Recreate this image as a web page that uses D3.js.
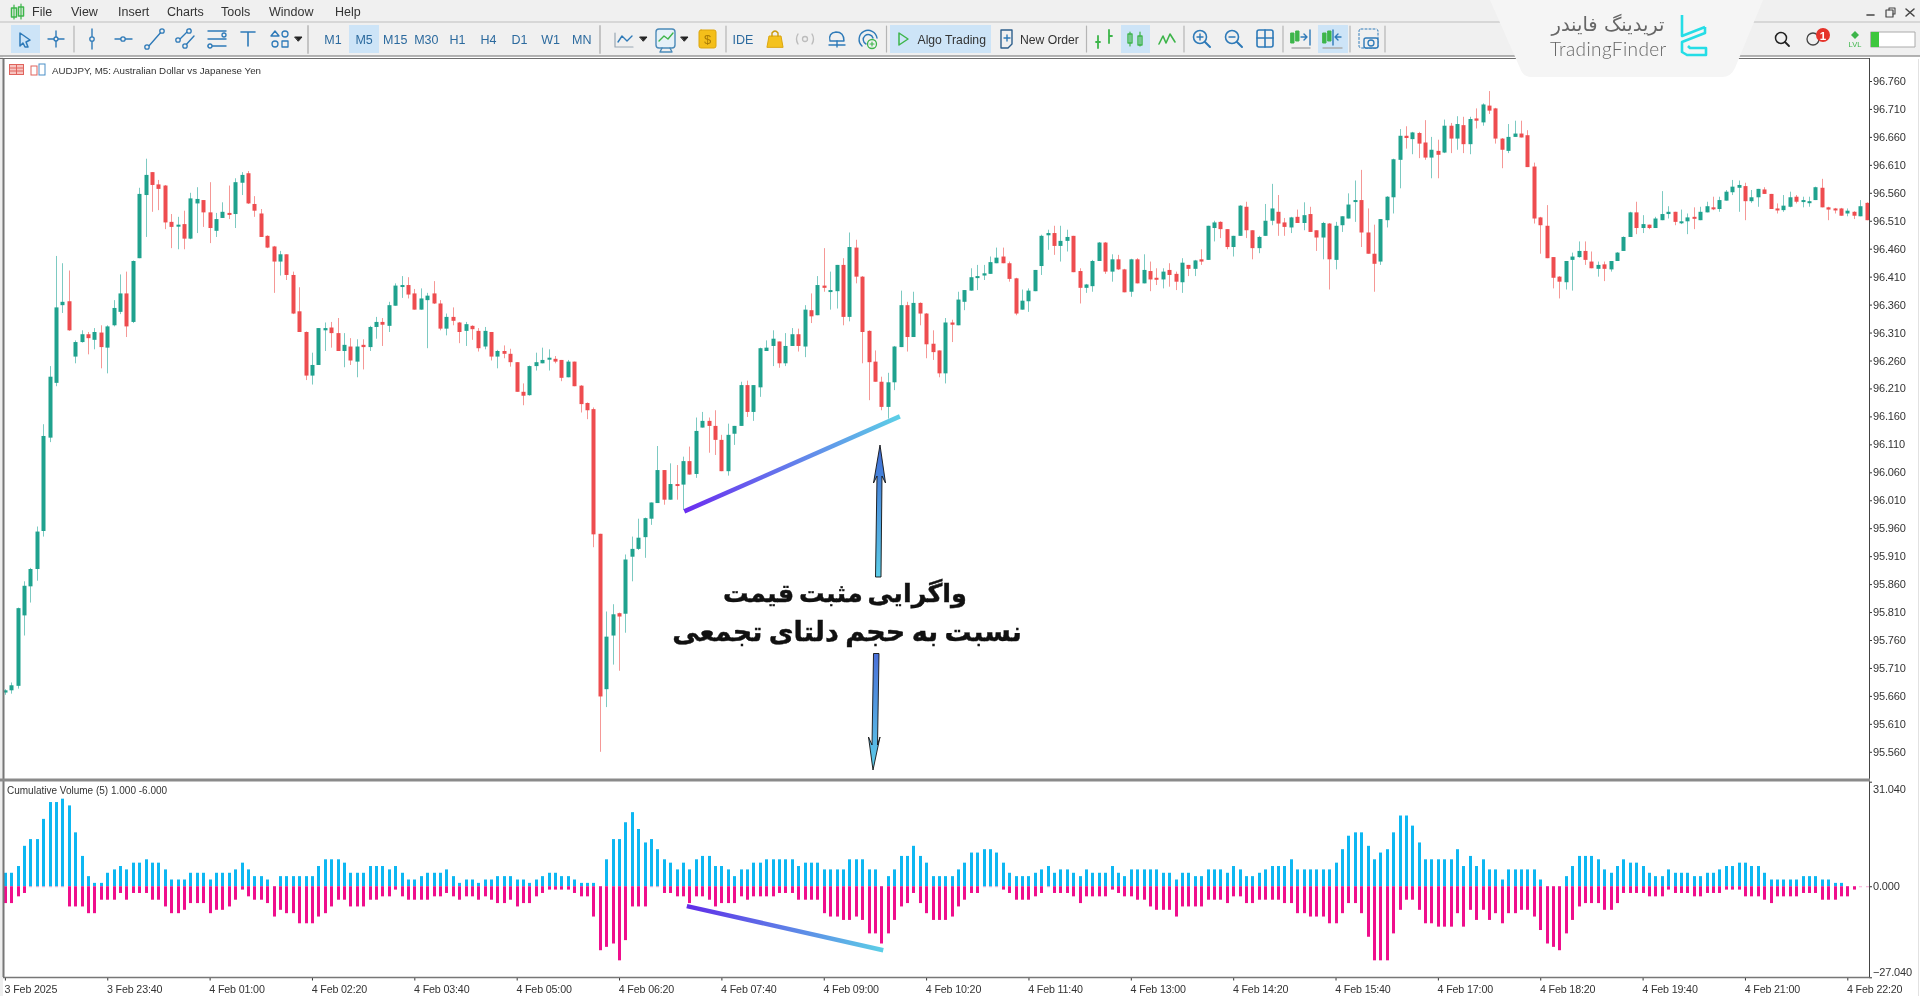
<!DOCTYPE html>
<html>
<head>
<meta charset="utf-8">
<style>
  html, body { margin: 0; padding: 0; background: #fff; overflow: hidden; }
  svg { display: block; filter: blur(0.3px); }
  text { font-family: "Liberation Sans", sans-serif; }
</style>
</head>
<body>
<svg id="chart" width="1920" height="996"></svg>
<script src="https://cdn.jsdelivr.net/npm/d3@7"></script>
<script>
const width = 1920;
const height = 996;

// AUDJPY M5, one entry per bar
const opens = [
  95.666,95.670,95.678,95.804,95.856,95.887,95.955,96.122,96.220,96.359,
  96.366,96.267,96.293,96.307,96.297,96.310,96.283,96.323,96.347,96.380,
  96.329,96.443,96.556,96.597,96.575,96.573,96.508,96.501,96.504,96.478,
  96.541,96.547,96.525,96.492,96.515,96.524,96.522,96.578,96.595,96.540,
  96.523,96.483,96.464,96.437,96.450,96.413,96.348,96.311,96.233,96.252,
  96.314,96.319,96.309,96.277,96.285,96.258,96.288,96.284,96.320,96.329,
  96.322,96.358,96.393,96.395,96.380,96.351,96.368,96.380,96.362,96.317,
  96.338,96.328,96.313,96.322,96.313,96.285,96.311,96.267,96.277,96.272,
  96.257,96.204,96.198,96.250,96.255,96.263,96.263,96.261,96.230,96.258,
  96.215,96.184,96.173,95.950,95.672,95.768,95.808,95.807,95.909,95.923,
  95.944,95.977,96.005,96.064,96.011,96.039,96.038,96.080,96.057,96.140,
  96.152,96.143,96.118,96.062,96.129,96.143,96.216,96.168,96.212,96.277,
  96.286,96.294,96.255,96.286,96.307,96.285,96.350,96.341,96.394,96.385,
  96.384,96.431,96.338,96.462,96.410,96.313,96.258,96.222,96.177,96.221,
  96.284,96.359,96.302,96.363,96.344,96.290,96.278,96.237,96.328,96.323,
  96.365,96.385,96.410,96.412,96.415,96.434,96.446,96.434,96.407,96.351,
  96.366,96.384,96.429,96.484,96.488,96.465,96.474,96.483,96.420,96.390,
  96.393,96.438,96.471,96.419,96.441,96.423,96.383,96.441,96.398,96.420,
  96.408,96.405,96.422,96.415,96.400,96.431,96.424,96.441,96.440,96.497,
  96.508,96.495,96.463,96.483,96.535,96.493,96.461,96.483,96.510,96.526,
  96.507,96.498,96.517,96.506,96.522,96.493,96.480,96.505,96.440,96.502,
  96.514,96.545,96.547,96.489,96.451,96.437,96.511,96.552,96.619,96.662,
  96.656,96.667,96.650,96.623,96.635,96.632,96.680,96.657,96.681,96.647,
  96.693,96.686,96.716,96.711,96.657,96.635,96.660,96.666,96.663,96.607,
  96.516,96.501,96.445,96.410,96.400,96.440,96.445,96.456,96.437,96.424,
  96.432,96.423,96.438,96.456,96.481,96.525,96.497,96.503,96.497,96.511,
  96.522,96.526,96.507,96.509,96.517,96.511,96.525,96.534,96.531,96.546,
  96.561,96.569,96.572,96.545,96.552,96.566,96.558,96.532,96.529,96.535,
  96.553,96.545,96.543,96.547,96.569,96.534,96.532,96.532,96.523,96.526,96.518,96.542
];
const highs = [
  95.672,95.684,95.818,95.865,95.889,95.963,96.146,96.250,96.447,96.434,
  96.421,96.296,96.314,96.311,96.318,96.323,96.323,96.368,96.414,96.419,
  96.439,96.569,96.621,96.597,96.583,96.574,96.522,96.517,96.528,96.560,
  96.570,96.547,96.579,96.524,96.543,96.573,96.586,96.597,96.599,96.554,
  96.531,96.484,96.465,96.456,96.450,96.419,96.391,96.312,96.274,96.318,
  96.328,96.329,96.336,96.309,96.300,96.298,96.298,96.322,96.338,96.336,
  96.365,96.398,96.411,96.409,96.388,96.389,96.381,96.402,96.368,96.344,
  96.355,96.329,96.329,96.323,96.318,96.320,96.311,96.279,96.287,96.281,
  96.257,96.219,96.251,96.274,96.283,96.280,96.268,96.261,96.261,96.258,
  96.216,96.185,96.176,95.950,95.811,95.824,95.809,95.913,95.945,95.977,
  95.979,96.006,96.107,96.064,96.076,96.073,96.088,96.106,96.158,96.168,
  96.158,96.171,96.127,96.147,96.143,96.222,96.224,96.216,96.283,96.296,
  96.314,96.294,96.309,96.318,96.317,96.359,96.380,96.411,96.461,96.419,
  96.431,96.443,96.489,96.476,96.411,96.314,96.278,96.231,96.238,96.286,
  96.385,96.365,96.383,96.364,96.345,96.314,96.278,96.336,96.333,96.383,
  96.386,96.425,96.431,96.431,96.446,96.462,96.462,96.437,96.408,96.387,
  96.389,96.422,96.485,96.494,96.501,96.501,96.494,96.483,96.425,96.397,
  96.440,96.472,96.472,96.450,96.449,96.424,96.442,96.443,96.450,96.437,
  96.425,96.425,96.434,96.419,96.443,96.431,96.440,96.459,96.501,96.510,
  96.509,96.495,96.483,96.538,96.544,96.493,96.483,96.540,96.576,96.556,
  96.515,96.517,96.530,96.543,96.535,96.493,96.508,96.506,96.508,96.518,
  96.559,96.582,96.601,96.532,96.503,96.513,96.554,96.621,96.674,96.679,
  96.669,96.669,96.690,96.660,96.655,96.691,96.685,96.697,96.696,96.696,
  96.711,96.720,96.742,96.712,96.658,96.683,96.689,96.689,96.672,96.614,
  96.517,96.538,96.445,96.411,96.438,96.453,96.473,96.473,96.455,96.437,
  96.437,96.438,96.454,96.482,96.526,96.544,96.520,96.503,96.517,96.563,
  96.536,96.526,96.530,96.523,96.534,96.535,96.544,96.553,96.553,96.565,
  96.583,96.582,96.578,96.565,96.567,96.570,96.558,96.541,96.556,96.562,
  96.556,96.553,96.553,96.571,96.585,96.535,96.533,96.533,96.532,96.527,96.547,96.543
];
const lows = [
  95.662,95.664,95.673,95.768,95.827,95.866,95.945,96.114,96.214,96.345,
  96.313,96.255,96.292,96.271,96.280,96.246,96.237,96.321,96.343,96.302,
  96.327,96.443,96.481,96.526,96.529,96.495,96.461,96.459,96.459,96.477,
  96.488,96.499,96.470,96.481,96.515,96.513,96.497,96.556,96.540,96.517,
  96.481,96.461,96.381,96.412,96.404,96.343,96.311,96.225,96.217,96.252,
  96.277,96.283,96.277,96.248,96.252,96.230,96.244,96.277,96.299,96.286,
  96.311,96.358,96.372,96.371,96.351,96.351,96.282,96.361,96.314,96.305,
  96.323,96.291,96.286,96.297,96.276,96.280,96.260,96.246,96.264,96.249,
  96.204,96.180,96.197,96.242,96.255,96.242,96.255,96.223,96.230,96.214,
  96.167,96.155,95.926,95.560,95.640,95.716,95.705,95.773,95.865,95.921,
  95.907,95.966,96.005,96.002,96.011,96.011,95.993,96.056,96.050,96.140,
  96.095,96.091,96.062,96.054,96.109,96.143,96.159,96.152,96.195,96.277,
  96.250,96.247,96.250,96.286,96.276,96.266,96.327,96.341,96.383,96.351,
  96.353,96.323,96.330,96.398,96.255,96.189,96.222,96.171,96.156,96.207,
  96.284,96.276,96.302,96.323,96.264,96.261,96.230,96.219,96.293,96.323,
  96.350,96.385,96.386,96.404,96.415,96.434,96.434,96.401,96.341,96.351,
  96.347,96.384,96.413,96.458,96.449,96.437,96.455,96.418,96.362,96.381,
  96.383,96.438,96.415,96.401,96.422,96.382,96.374,96.398,96.398,96.384,
  96.395,96.389,96.392,96.386,96.381,96.411,96.411,96.431,96.440,96.473,
  96.479,96.459,96.446,96.483,96.479,96.441,96.452,96.483,96.502,96.483,
  96.483,96.488,96.506,96.493,96.490,96.456,96.441,96.387,96.423,96.490,
  96.514,96.508,96.463,96.451,96.383,96.431,96.498,96.523,96.568,96.639,
  96.629,96.622,96.619,96.586,96.586,96.631,96.631,96.637,96.631,96.629,
  96.675,96.680,96.701,96.648,96.604,96.631,96.660,96.659,96.606,96.505,
  96.451,96.443,96.389,96.371,96.387,96.385,96.444,96.431,96.425,96.410,
  96.402,96.419,96.438,96.456,96.481,96.486,96.488,96.495,96.497,96.511,
  96.514,96.502,96.504,96.486,96.495,96.511,96.525,96.529,96.526,96.546,
  96.556,96.526,96.511,96.542,96.535,96.558,96.531,96.523,96.526,96.534,
  96.541,96.534,96.535,96.547,96.534,96.511,96.523,96.519,96.518,96.513,96.518,96.511
];
const closes = [
  95.670,95.679,95.817,95.857,95.887,95.954,96.125,96.231,96.355,96.365,
  96.314,96.293,96.307,96.300,96.311,96.284,96.321,96.354,96.380,96.321,
  96.438,96.558,96.592,96.574,96.567,96.507,96.499,96.503,96.478,96.550,
  96.549,96.525,96.497,96.513,96.526,96.521,96.579,96.592,96.541,96.528,
  96.481,96.462,96.437,96.450,96.413,96.344,96.311,96.233,96.252,96.318,
  96.318,96.309,96.277,96.288,96.260,96.285,96.284,96.320,96.329,96.324,
  96.359,96.394,96.395,96.378,96.351,96.371,96.376,96.362,96.317,96.338,
  96.331,96.311,96.325,96.316,96.282,96.313,96.267,96.277,96.272,96.257,
  96.204,96.197,96.250,96.257,96.261,96.265,96.258,96.229,96.258,96.214,
  96.182,96.171,95.949,95.659,95.766,95.806,95.802,95.904,95.923,95.943,
  95.978,96.006,96.064,96.011,96.039,96.037,96.080,96.056,96.134,96.152,
  96.143,96.118,96.062,96.127,96.143,96.216,96.168,96.216,96.282,96.283,
  96.299,96.255,96.286,96.307,96.286,96.351,96.339,96.395,96.390,96.386,
  96.431,96.338,96.463,96.410,96.311,96.257,96.222,96.177,96.221,96.285,
  96.359,96.302,96.363,96.344,96.289,96.275,96.237,96.328,96.324,96.369,
  96.386,96.409,96.411,96.416,96.436,96.444,96.434,96.406,96.344,96.367,
  96.385,96.422,96.483,96.488,96.465,96.474,96.481,96.418,96.390,96.396,
  96.438,96.471,96.419,96.441,96.423,96.382,96.441,96.398,96.422,96.405,
  96.405,96.419,96.413,96.401,96.435,96.424,96.439,96.437,96.501,96.507,
  96.495,96.463,96.483,96.537,96.493,96.461,96.481,96.510,96.532,96.505,
  96.499,96.516,96.506,96.520,96.490,96.480,96.506,96.441,96.501,96.518,
  96.539,96.547,96.489,96.451,96.433,96.513,96.553,96.620,96.662,96.658,
  96.668,96.648,96.623,96.637,96.628,96.680,96.657,96.683,96.647,96.692,
  96.689,96.718,96.707,96.657,96.637,96.660,96.666,96.659,96.606,96.514,
  96.502,96.443,96.408,96.401,96.438,96.446,96.456,96.440,96.425,96.431,
  96.424,96.438,96.453,96.481,96.525,96.497,96.504,96.497,96.514,96.522,
  96.526,96.508,96.509,96.516,96.515,96.526,96.536,96.531,96.547,96.562,
  96.571,96.574,96.545,96.552,96.567,96.558,96.531,96.531,96.537,96.552,
  96.544,96.547,96.545,96.570,96.534,96.530,96.530,96.519,96.528,96.519,96.536,96.511
];

// Cumulative Volume (5) indicator, both sides per bar
const buyVolume = [
  4,4,6,12,14,14,20,25,25,26, 24,16,9,3,1,1,4,5,6,5,
  7,7,8,7,7,5,2,2,2,4, 4,4,2,4,4,4,5,7,5,3,
  3,2,0,3,3,3,3,3,3,6, 8,8,8,7,4,4,4,6,6,6,
  5,6,4,2,2,3,4,4,4,5, 3,1,2,2,1,2,2,3,3,3,
  2,2,1,2,3,4,4,3,3,2, 1,1,1,0,8,14,14,19,22,17,
  13,14,11,8,7,5,7,5,8,9, 9,6,6,5,3,5,5,7,7,8,
  8,8,8,8,6,7,7,7,5,5, 5,5,8,8,8,5,5,0,3,5,
  9,9,12,9,7,3,3,3,3,5, 7,10,10,11,11,10,7,4,3,3,
  3,4,5,6,4,5,5,4,3,5, 4,4,4,6,4,3,5,5,5,5,
  5,4,4,2,4,4,3,3,5,5, 5,4,6,5,3,3,4,5,6,6,
  6,8,5,5,5,5,5,5,7,11, 15,16,16,12,8,10,11,16,21,21,
  18,13,8,8,8,8,8,11,6,9, 6,8,5,5,2,5,5,5,5,5,
  2,0,0,0,3,6,9,9,9,8, 5,4,6,8,7,7,6,4,3,3,
  5,4,4,4,3,3,4,4,5,6, 6,7,7,6,6,4,2,2,2,2,
  2,3,3,3,2,2,1,1,0,0,0,0
];
const sellVolume = [
  5,5,3,2,0,0,0,0,0,0, 6,6,6,8,8,4,4,4,2,4,
  2,2,2,4,4,6,8,8,7,5, 5,5,8,7,7,6,4,1,3,4,
  4,5,9,7,8,8,11,11,11,9, 8,6,4,4,6,6,6,4,4,3,
  3,1,3,4,4,4,4,3,3,2, 3,4,3,3,4,3,4,5,5,4,
  6,5,5,3,2,1,1,1,1,2, 3,3,9,19,18,17,22,16,6,6,
  6,0,0,2,2,3,3,5,3,3, 4,6,5,5,5,3,4,3,3,3,
  3,2,2,2,4,4,4,4,8,9, 9,10,10,9,10,14,14,17,14,10,
  6,5,2,5,8,10,10,10,9,6, 4,2,2,0,0,0,1,2,4,4,
  4,3,2,0,2,2,2,3,5,3, 3,3,3,1,2,3,3,4,4,6,
  7,7,7,9,6,6,6,6,4,4, 4,5,3,3,5,5,4,4,4,4,
  5,5,8,8,9,9,9,11,11,8, 5,5,8,15,22,22,22,14,7,4,
  4,7,11,11,12,12,12,8,12,7, 10,7,10,8,11,8,8,7,7,9,
  13,17,18,19,14,10,6,5,5,5, 7,7,5,2,2,2,2,3,3,3,
  1,2,2,2,3,3,2,2,2,1, 1,1,3,3,3,4,5,3,3,3,
  3,2,2,2,4,4,4,3,3,1,0,0
];

const priceTicks = d3.range(0, 25).map(i => +(96.76 - i * 0.05).toFixed(3));
const volumeTicks = [31.04, 0, -27.04];
const timeLabels = ["3 Feb 2025", "3 Feb 23:40", "4 Feb 01:00", "4 Feb 02:20", "4 Feb 03:40", "4 Feb 05:00",
  "4 Feb 06:20", "4 Feb 07:40", "4 Feb 09:00", "4 Feb 10:20", "4 Feb 11:40", "4 Feb 13:00", "4 Feb 14:20",
  "4 Feb 15:40", "4 Feb 17:00", "4 Feb 18:20", "4 Feb 19:40", "4 Feb 21:00", "4 Feb 22:20"];
const menuItems = ["File", "View", "Insert", "Charts", "Tools", "Window", "Help"];
const timeframes = ["M1", "M5", "M15", "M30", "H1", "H4", "D1", "W1", "MN"];

const bars = d3.range(opens.length);
const plotLeft = 4, plotRight = 1869;

const x = d3.scaleLinear().domain([0, 291]).range([4.9, 1866.5]);
const y = d3.scaleLinear().domain([96.76, 95.56]).range([81, 751.8]);
const yVol = d3.scaleLinear().domain([31.04, -27.04]).range([781.7, 977.3]);
const px = i => Math.round(x(i));

const svg = d3.select("#chart");
const defs = svg.append("defs");

defs.append("clipPath").attr("id", "plotClip").append("rect")
  .attr("x", plotLeft).attr("y", 59).attr("width", plotRight - plotLeft).attr("height", 920);

function gradient(id, x1, y1, x2, y2, from, to) {
  const g = defs.append("linearGradient").attr("id", id).attr("gradientUnits", "userSpaceOnUse")
    .attr("x1", x1).attr("y1", y1).attr("x2", x2).attr("y2", y2);
  g.append("stop").attr("offset", "0%").attr("stop-color", from);
  g.append("stop").attr("offset", "100%").attr("stop-color", to);
}

svg.append("rect").attr("width", width).attr("height", height).attr("fill", "#fff");

// candles
const candles = svg.append("g").attr("clip-path", "url(#plotClip)");
candles.selectAll("line.wick").data(bars).join("line")
  .attr("class", "wick")
  .attr("x1", i => px(i) + 0.5).attr("x2", i => px(i) + 0.5)
  .attr("y1", i => y(highs[i])).attr("y2", i => y(lows[i]))
  .attr("stroke", i => closes[i] >= opens[i] ? "#26a69a" : "#ef5350")
  .attr("stroke-opacity", 0.6);
candles.selectAll("rect.body").data(bars).join("rect")
  .attr("class", "body")
  .attr("x", i => px(i) - 1.5).attr("width", 4)
  .attr("y", i => y(Math.max(opens[i], closes[i])))
  .attr("height", i => Math.max(2, Math.abs(y(opens[i]) - y(closes[i]))))
  .attr("fill", i => closes[i] >= opens[i] ? "#1fa28e" : "#ee4c4f");

// indicator histogram
const volume = svg.append("g").attr("clip-path", "url(#plotClip)");
volume.selectAll("rect.buy").data(bars).join("rect")
  .attr("class", "buy")
  .attr("x", i => px(i) - 1).attr("width", 3)
  .attr("y", i => yVol(buyVolume[i]))
  .attr("height", i => yVol(0) - yVol(buyVolume[i]))
  .attr("fill", "#0db7f2");
volume.selectAll("rect.sell").data(bars).join("rect")
  .attr("class", "sell")
  .attr("x", i => px(i) - 1).attr("width", 3)
  .attr("y", yVol(0))
  .attr("height", i => sellVolume[i] ? yVol(-sellVolume[i]) - yVol(0) : 1)
  .attr("fill", "#ef0e8c")
  .attr("fill-opacity", i => sellVolume[i] ? 1 : 0.35);

// axes
const priceAxis = d3.axisRight(y).tickValues(priceTicks).tickFormat(d3.format(".3f")).tickSize(3).tickPadding(1);
const volAxis = d3.axisRight(yVol).tickValues(volumeTicks).tickFormat(d3.format(".3f")).tickSize(3).tickPadding(1);
const timeAxis = d3.axisBottom(x).tickValues(timeLabels.map((d, i) => i * 16))
  .tickFormat((d, i) => timeLabels[i]).tickSize(3).tickPadding(3);

function styleAxis(g) {
  g.select(".domain").remove();
  g.selectAll("line").attr("stroke", "#333");
  g.selectAll("text").attr("fill", "#333").attr("font-size", 11)
    .attr("font-family", "Liberation Sans").attr("letter-spacing", -0.15);
}
svg.append("g").attr("transform", `translate(${plotRight},0)`).call(priceAxis).call(styleAxis);
const volG = svg.append("g").attr("transform", `translate(${plotRight},0)`).call(volAxis).call(styleAxis);
volG.selectAll("text").attr("dy", d => d === 31.04 ? "1.0em" : d === -27.04 ? "-0.18em" : "0.32em");
const timeG = svg.append("g").attr("transform", "translate(0,977.5)").call(timeAxis).call(styleAxis);
timeG.selectAll("text").attr("text-anchor", "start").attr("dy", "0.9em").attr("font-size", 10.7).attr("dx", -0.8);

// panel frame
function rule(x1, y1, x2, y2, color, w) {
  return svg.append("line").attr("x1", x1).attr("y1", y1).attr("x2", x2).attr("y2", y2)
    .attr("stroke", color).attr("stroke-width", w || 1);
}
svg.append("rect").attr("x", 0).attr("y", 56).attr("width", 3).attr("height", 940).attr("fill", "#eeeeee");
rule(3.5, 58, 3.5, 977, "#777", 2);
rule(plotRight + 0.5, 58, plotRight + 0.5, 977, "#444", 1);
svg.append("rect").attr("x", 0).attr("y", 778.5).attr("width", plotRight + 1).attr("height", 3).attr("fill", "#8a8a8a");
rule(3, 977.5, plotRight, 977.5, "#777", 1.5);

// divergence annotations, anchored on bars and values
gradient("gradPrice", x(106.2), y(95.99), x(139.9), y(96.16), "#6a2cf0", "#5ccfe6");
svg.append("line").attr("x1", x(106.2)).attr("y1", y(95.99)).attr("x2", x(139.9)).attr("y2", y(96.16))
  .attr("stroke", "url(#gradPrice)").attr("stroke-width", 4.5);
gradient("gradVol", x(106.6), yVol(-5.9), x(137.3), yVol(-19), "#5f2ce8", "#5ccfe6");
svg.append("line").attr("x1", x(106.6)).attr("y1", yVol(-5.9)).attr("x2", x(137.3)).attr("y2", yVol(-19))
  .attr("stroke", "url(#gradVol)").attr("stroke-width", 4.5);

gradient("gradUp", 0, 445, 0, 577, "#3f6bd6", "#5ccde8");
svg.append("path").attr("d", "M880,445 L885.5,483 L882,476 L881,577 L875.5,577 L877,476 L873.5,483 Z")
  .attr("fill", "url(#gradUp)").attr("stroke", "#111").attr("stroke-width", 0.9);
gradient("gradDown", 0, 653, 0, 770, "#4a6fd8", "#5ccde8");
svg.append("path").attr("d", "M873.5,653.5 L879,653.5 L877.5,745 L880,737 L873,770 L868.5,737 L872,745 Z")
  .attr("fill", "url(#gradDown)").attr("stroke", "#111").attr("stroke-width", 0.9);

function persian(str, cx, cy, size, gap) {
  svg.append("text").attr("x", cx).attr("y", cy).attr("text-anchor", "middle").attr("direction", "rtl")
    .style("font-family", "'DejaVu Sans'").attr("font-weight", 700).attr("font-size", size)
    .attr("word-spacing", gap).attr("fill", "#111").attr("stroke", "#111").attr("stroke-width", 0.4).text(str);
}
persian("واگرایی مثبت قیمت", 845, 602, 25.5, -4);
persian("نسبت به حجم دلتای تجمعی", 847, 641, 27, -3);

// labels on the panels
svg.append("text").attr("x", 52).attr("y", 73.5).attr("font-size", 9.75).attr("fill", "#333")
  .text("AUDJPY, M5:  Australian Dollar vs Japanese Yen");
svg.append("text").attr("x", 7).attr("y", 794).attr("font-size", 10).attr("fill", "#333")
  .text("Cumulative Volume (5) 1.000 -6.000");

// little book and chart marks next to the symbol name
svg.append("rect").attr("x", 9.5).attr("y", 64.5).attr("width", 14).attr("height", 10).attr("fill", "#f7c4c0").attr("stroke", "#e0635c");
rule(16.5, 65, 16.5, 74, "#e0635c");
rule(10, 68, 23, 68, "#e0635c");
rule(10, 71, 23, 71, "#e0635c");
svg.append("rect").attr("x", 31).attr("y", 66).attr("width", 6).attr("height", 9).attr("fill", "none").attr("stroke", "#e0635c");
svg.append("rect").attr("x", 39).attr("y", 64).attr("width", 6).attr("height", 11).attr("fill", "none").attr("stroke", "#4a8fc7");

// window chrome
svg.append("rect").attr("width", width).attr("height", 56).attr("fill", "#f0f0f0");
rule(0, 22, width, 22, "#cfcfcf", 1.5);
rule(0, 56, width, 56, "#9a9a9a", 1.5);
rule(0, 58.5, plotRight, 58.5, "#6e6e6e", 1.2);
rule(1918.5, 59, 1918.5, height, "#e2e2e2", 1);

const menuX = [32, 71, 118, 167, 221, 269, 335];
menuItems.forEach((m, i) => {
  svg.append("text").attr("x", menuX[i]).attr("y", 16).attr("font-size", 12.5).attr("fill", "#333").text(m);
});

const ico = svg.append("g").attr("fill", "none").attr("stroke-linecap", "round").attr("stroke-linejoin", "round");
function highlight(x0, x1) {
  ico.append("rect").attr("x", x0).attr("y", 25).attr("width", x1 - x0).attr("height", 28)
    .attr("fill", "#cde4f7").attr("stroke", "none");
}
function path(d, color, w, fill) {
  ico.append("path").attr("d", d).attr("stroke", color).attr("stroke-width", w || 1.4).attr("fill", fill || "none");
}
function dot(cx, cy, r, color) {
  ico.append("circle").attr("cx", cx).attr("cy", cy).attr("r", r || 2.2).attr("stroke", color).attr("stroke-width", 1.3).attr("fill", "#f0f0f0");
}
function sep(xp) { path(`M${xp},26 V52`, "#b5b5b5", 1.2); }
function grip(xp) { path(`M${xp},26 V53`, "#c4c4c4", 2); }

const blue = "#2e7ab8", green = "#3db54a";
highlight(11, 40); highlight(349, 379); highlight(890, 991); highlight(1121, 1150); highlight(1318, 1348);

// logo in the menu bar
path("M14,5 V19 M21,4 V19", green, 1.2);
ico.append("rect").attr("x", 11.5).attr("y", 8).attr("width", 5).attr("height", 9).attr("stroke", green).attr("stroke-width", 1.5);
ico.append("rect").attr("x", 18.5).attr("y", 7).attr("width", 5).attr("height", 9).attr("stroke", green).attr("stroke-width", 1.5);

path("M20,33 L30,40 L26,42 L28,47 L25,47 L23,43 L20,46 Z", blue, 1.5);
path("M48,39 H64 M56,31 V47", blue); dot(56, 39, 2, blue);
sep(74);
path("M92,29 V49", blue); dot(92, 39, 2.2, blue);
path("M115,39 H132", blue); dot(123, 39, 2.2, blue);
path("M148,47 L162,31", blue); dot(147, 47, 2.2, blue); dot(162, 31, 2.2, blue);
path("M178,41 L190,29 M184,47 L194,36", blue); dot(178, 40, 2.2, blue); dot(189, 31, 2.2, blue); dot(185, 46, 2.2, blue);
path("M208,31 H226 M208,39 H226 M208,46 H226", blue); dot(224, 35, 2, blue); dot(210, 46, 2, blue);
path("M241,32 H255 M248,32 V46", blue, 1.6);
path("M275,31 L279,36 H271 Z", blue); dot(285, 34, 3, blue); dot(275, 44, 3, blue);
ico.append("rect").attr("x", 282).attr("y", 41).attr("width", 6).attr("height", 6).attr("stroke", blue).attr("stroke-width", 1.3);
path("M295,37 H302 L298.5,41 Z", "#222", 1, "#222");
grip(308);

timeframes.forEach((t, i) => {
  svg.append("text").attr("x", 333 + i * 31.1).attr("y", 44).attr("text-anchor", "middle")
    .attr("font-size", 12.5).attr("fill", "#2c6a9e").text(t);
});
grip(600);

path("M615,33 V47 H633", "#9aa8b4", 1.2); path("M618,42 L622,36 L627,41 L632,36", blue);
path("M640,37 H647 L643.5,41 Z", "#222", 1, "#222");
ico.append("rect").attr("x", 656).attr("y", 29).attr("width", 19).attr("height", 19).attr("rx", 3).attr("stroke", "#4b8ab8").attr("stroke-width", 1.4).attr("fill", "#e6f1f8");
path("M659,41 L664,36 L668,39 L673,33", green); path("M662,48 L660,52 H672 L670,48", "#4b8ab8");
path("M681,37 H688 L684.5,41 Z", "#222", 1, "#222");
ico.append("rect").attr("x", 699).attr("y", 30).attr("width", 17).attr("height", 18).attr("rx", 2).attr("fill", "#f4bf1a").attr("stroke", "#dca60f");
svg.append("text").attr("x", 707.5).attr("y", 44).attr("text-anchor", "middle").attr("font-size", 13).attr("fill", "#a97b05").text("$");
sep(726);
svg.append("text").attr("x", 743).attr("y", 44).attr("text-anchor", "middle").attr("font-size", 12.5).attr("fill", "#2c6a9e").text("IDE");
ico.append("path").attr("d", "M767,47 L769,36 H781 L783,47 Z").attr("fill", "#f4c21f").attr("stroke", "#dca60f");
path("M772,36 V33 Q775,29 778,33 V36", "#c99a0d");
path("M798,34 Q795,39 798,44 M812,34 Q815,39 812,44", "#bcbcbc"); dot(805, 39, 2.5, "#bcbcbc");
path("M830,41 Q828,33 836,32 Q844,32 844,41 Z", blue); path("M829,45 H845 M837,41 V47", blue);
path("M862,46 A9,9 0 1 1 877,38 M866,44 A5,5 0 1 1 873,38", blue); dot(872, 44, 4.5, green);
path("M870,44 H874 M872,42 V46", green, 1.1);
sep(886.5);

path("M899,33 L908,39 L899,45 Z", green, 1.5);
svg.append("text").attr("x", 917.5).attr("y", 43.5).attr("font-size", 12.2).attr("fill", "#333").text("Algo Trading");
path("M1001,30 H1012 V44 L1008,48 H1001 Z", "#2e5f8c", 1.4);
path("M1004,38 H1010 M1007,35 V41", blue);
svg.append("text").attr("x", 1020).attr("y", 43.5).attr("font-size", 12.2).attr("fill", "#333").text("New Order");
sep(1086.5);
path("M1098,36 V48 M1096,42 H1100 M1109,30 V43 M1109,36 H1112", green, 1.8);
path("M1130,32 V46 M1140,32 V46", green, 1.2);
ico.append("rect").attr("x", 1128).attr("y", 34).attr("width", 4).attr("height", 9).attr("stroke", green).attr("stroke-width", 1.4);
ico.append("rect").attr("x", 1138).attr("y", 36).attr("width", 4).attr("height", 9).attr("stroke", green).attr("stroke-width", 1.4);
path("M1159,44 L1163,36 L1166,43 L1170,34 L1175,42", green, 1.6);
sep(1184);
function lens(cx, plus) {
  ico.append("circle").attr("cx", cx).attr("cy", 37).attr("r", 6.5).attr("stroke", blue).attr("stroke-width", 1.6);
  path(`M${cx + 5},42 L${cx + 10},47`, blue, 2);
  path(plus ? `M${cx - 3},37 H${cx + 3} M${cx},34 V40` : `M${cx - 3},37 H${cx + 3}`, blue);
}
lens(1200, true); lens(1232, false);
ico.append("rect").attr("x", 1257).attr("y", 30).attr("width", 16).attr("height", 17).attr("rx", 2).attr("stroke", blue).attr("stroke-width", 1.6);
path("M1265,30 V47 M1257,38 H1273", blue, 1.6);
sep(1283);
function miniBars(xp) {
  ico.append("rect").attr("x", xp).attr("y", 33).attr("width", 3).attr("height", 10).attr("fill", green).attr("stroke", green);
  ico.append("rect").attr("x", xp + 5).attr("y", 31).attr("width", 3).attr("height", 10).attr("fill", green).attr("stroke", green);
}
miniBars(1291); path("M1301,37 H1307 M1304,34 L1307,37 L1304,40 M1310,30 V45", blue); path("M1292,48 H1310", "#aaa");
miniBars(1323); path("M1341,37 H1335 M1338,34 L1335,37 L1338,40 M1333,30 V45", blue); path("M1323,48 H1342", "#aaa");
sep(1350);
ico.append("rect").attr("x", 1359).attr("y", 29).attr("width", 19).attr("height", 19).attr("rx", 2).attr("stroke", blue).attr("stroke-dasharray", "2 2");
ico.append("rect").attr("x", 1364).attr("y", 38).attr("width", 14).attr("height", 10).attr("rx", 2).attr("stroke", blue).attr("stroke-width", 1.4).attr("fill", "#f0f0f0");
ico.append("circle").attr("cx", 1371).attr("cy", 43).attr("r", 3).attr("stroke", blue).attr("stroke-width", 1.3);
sep(1385);

// window buttons and right hand status icons
path("M1867,15 H1874", "#444", 1.6);
ico.append("rect").attr("x", 1886).attr("y", 10).attr("width", 7).attr("height", 7).attr("stroke", "#444").attr("stroke-width", 1.2);
path("M1889,10 V8 H1895 V14 H1893", "#444", 1.1);
path("M1906,9 L1914,16 M1914,9 L1906,16", "#444", 1.5);

ico.append("circle").attr("cx", 1781).attr("cy", 38).attr("r", 5.5).attr("stroke", "#222").attr("stroke-width", 1.5);
path("M1785,42 L1789,46", "#222", 1.8);
ico.append("circle").attr("cx", 1813).attr("cy", 39).attr("r", 6).attr("stroke", "#444").attr("stroke-width", 1.3);
ico.append("circle").attr("cx", 1823).attr("cy", 35).attr("r", 7).attr("fill", "#e5332a");
svg.append("text").attr("x", 1823).attr("y", 40).attr("text-anchor", "middle").attr("font-size", 11.5).attr("font-weight", 700).attr("fill", "#fff").text("1");
ico.append("path").attr("d", "M1855,31 L1859,35 L1855,39 L1851,35 Z").attr("fill", "#3db54a");
svg.append("text").attr("x", 1855).attr("y", 47).attr("text-anchor", "middle").attr("font-size", 7.5).attr("fill", "#3db54a").text("LVL");
ico.append("rect").attr("x", 1871).attr("y", 32).attr("width", 44).attr("height", 15).attr("fill", "#fff").attr("stroke", "#aaa");
ico.append("rect").attr("x", 1871).attr("y", 32).attr("width", 8).attr("height", 15).attr("fill", "#3ec73e");

// TradingFinder badge
svg.append("path").attr("d", "M1490,0 H1763 L1735,68 Q1731,77 1722,77 H1531 Q1523,77 1520,68 Z").attr("fill", "#f5f5f5");
svg.append("text").attr("x", 1608).attr("y", 31).attr("text-anchor", "middle").attr("direction", "rtl")
  .style("font-family", "'DejaVu Sans'").attr("font-size", 19.5).attr("fill", "#666").text("تریدینگ فایندر");
svg.append("text").attr("x", 1550).attr("y", 56).style("font-family", "Lato").attr("font-weight", 300)
  .attr("font-size", 19).attr("letter-spacing", 0.4).attr("fill", "#666").text("TradingFinder");
svg.append("path")
  .attr("d", "M1682,15 V36 L1705,27 M1705,27 V33 L1682,42 V52 L1687,55 H1706 V48 H1690 L1688,46")
  .attr("fill", "none").attr("stroke", "#25dde6").attr("stroke-width", 2.6).attr("stroke-linejoin", "round");
</script>
</body>
</html>
